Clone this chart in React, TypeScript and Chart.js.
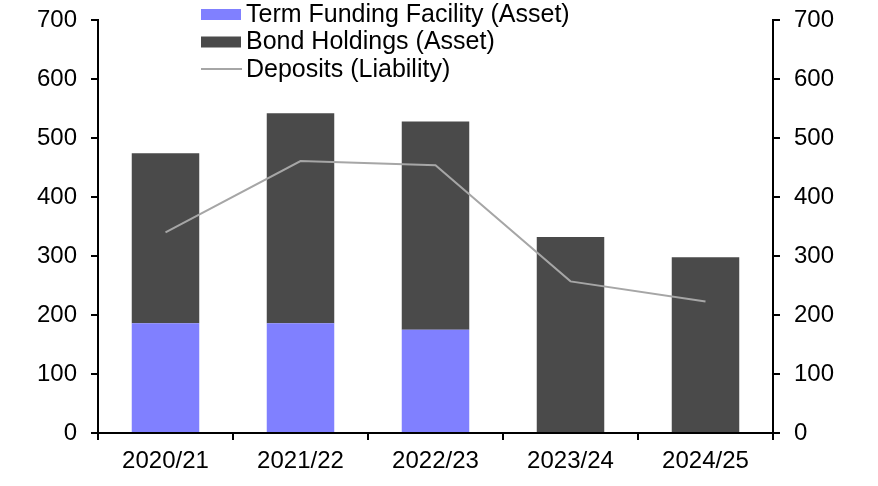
import React, { useEffect, useRef } from "react";
import { Chart, registerables } from "chart.js";

Chart.register(...registerables);

const categories = ["2020/21", "2021/22", "2022/23", "2023/24", "2024/25"];
const termFunding = [186, 186, 175, 0, 0];
const bondHoldings = [288, 356, 353, 332, 298];
const deposits = [340, 461, 454, 257, 223];
const yTicks = [0, 100, 200, 300, 400, 500, 600, 700];

const FONT = "Liberation Sans, Arial, sans-serif";
const FS = 24;
const LEGEND_FS = 25;

const legendPlugin = {
  id: "customLegend",
  afterDraw(chart: any) {
    const ctx = chart.ctx;
    ctx.save();
    ctx.font = `${LEGEND_FS}px ${FONT}`;
    ctx.textBaseline = "middle";
    ctx.fillStyle = "#000";
    const x0 = 201;
    const items = [
      { label: "Term Funding Facility (Asset)", type: "box", color: "#8080FF", y: 14 },
      { label: "Bond Holdings (Asset)", type: "box", color: "#4A4A4A", y: 41.5 },
      { label: "Deposits (Liability)", type: "line", color: "#A6A6A6", y: 69 },
    ];
    for (const it of items) {
      if (it.type === "box") {
        ctx.fillStyle = it.color;
        ctx.fillRect(x0, it.y - 5, 40, 11);
      } else {
        ctx.strokeStyle = it.color;
        ctx.lineWidth = 2;
        ctx.beginPath();
        ctx.moveTo(x0, it.y);
        ctx.lineTo(x0 + 41, it.y);
        ctx.stroke();
      }
      ctx.fillStyle = "#000";
      ctx.fillText(it.label, x0 + 45, it.y + 1);
    }
    ctx.restore();
  },
};

export default function App() {
  const ref = useRef<HTMLCanvasElement | null>(null);
  useEffect(() => {
    document.body.style.margin = "0";
    const canvas = ref.current!;
    const font = { family: FONT, size: FS };
    const yAxis = (pos: "left" | "right", stacked: boolean, w: number) => ({
      position: pos,
      min: 0,
      max: 700,
      stacked,
      afterBuildTicks: (s: any) => {
        s.ticks = yTicks.map((v) => ({ value: v }));
      },
      afterFit: (s: any) => {
        s.width = w;
        s.paddingTop = 0;
        s.paddingBottom = 0;
      },
      grid: { drawOnChartArea: false, drawTicks: true, tickLength: 7, color: "#000", lineWidth: 2 },
      border: { color: "#000", width: 2 },
      ticks: { color: "#000", font, padding: 14 },
    });
    const chart = new Chart(canvas, {
      type: "bar",
      data: {
        labels: categories,
        datasets: [
          {
            type: "line",
            label: "Deposits (Liability)",
            data: deposits,
            borderColor: "#A6A6A6",
            borderWidth: 2,
            pointRadius: 0,
            tension: 0,
            yAxisID: "y2",
            order: 0,
          } as any,
          {
            label: "Term Funding Facility (Asset)",
            data: termFunding,
            backgroundColor: "#8080FF",
            yAxisID: "y",
            order: 1,
            barPercentage: 0.5,
            categoryPercentage: 1,
          },
          {
            label: "Bond Holdings (Asset)",
            data: bondHoldings,
            backgroundColor: "#4A4A4A",
            yAxisID: "y",
            order: 1,
            barPercentage: 0.5,
            categoryPercentage: 1,
          },
        ],
      },
      options: {
        animation: false,
        responsive: false,
        maintainAspectRatio: false,
        layout: { padding: { top: 20, left: 0, right: 0, bottom: 0 } },
        plugins: { legend: { display: false }, tooltip: { enabled: false } },
        scales: {
          x: {
            stacked: true,
            offset: true,
            afterFit: (s: any) => {
              s.height = 53;
              s.paddingLeft = 0;
              s.paddingRight = 0;
            },
            grid: { offset: true, drawOnChartArea: false, drawTicks: true, tickLength: 7, color: "#000", lineWidth: 2 },
            border: { color: "#000", width: 2 },
            ticks: { color: "#000", font, padding: 7, maxRotation: 0 },
          },
          y: yAxis("left", true, 98) as any,
          y2: yAxis("right", false, 105) as any,
        },
      },
      plugins: [legendPlugin],
    });
    return () => chart.destroy();
  }, []);
  return (
    <div style={{ width: 878, height: 486, position: "relative" }}>
      <canvas ref={ref} width={878} height={486} style={{ width: 878, height: 486, display: "block" }} />
    </div>
  );
}
